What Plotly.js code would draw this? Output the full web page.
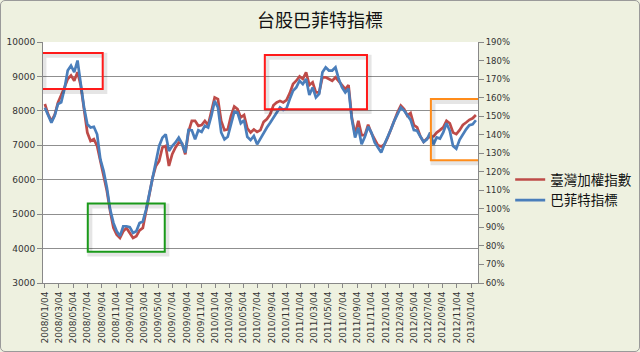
<!DOCTYPE html>
<html>
<head>
<meta charset="utf-8">
<script src="https://cdn.plot.ly/plotly-3.0.1.min.js"></script>
<style>
html,body{margin:0;padding:0;background:#fff;}
#wrap{position:relative;width:640px;height:352px;}
#chart{width:640px;height:352px;}
#frame{position:absolute;left:0;top:0;width:638px;height:350px;border:1px solid #9a9a9a;border-radius:5px;pointer-events:none;}
</style>
</head>
<body>
<div id="wrap"><div id="chart"></div><div id="frame"></div></div>
<script>
// ---- data ----
const startDate = '2008-01-04';
const stepDays = 14;

const taiex = [8200,7900,7700,7880,8240,8450,8680,8925,9030,8875,9125,8730,8060,7370,7125,7180,6980,6545,6205,5670,
5085,4600,4405,4310,4500,4600,4455,4310,4360,4530,4600,5085,5520,6060,6400,6545,6935,6980,6400,6740,
6935,7080,7050,6740,7400,7710,7710,7565,7590,7710,7585,8000,8390,8340,7710,7440,7460,7855,8125,8050,
7810,7880,7490,7370,7460,7390,7440,7680,7760,7900,8165,8245,8290,8245,8310,8515,8780,8875,9000,8925,
9120,8750,8830,8535,8535,8975,8975,8925,8875,8975,8875,8750,8635,8750,7805,7320,7710,7295,7295,7600,
7350,7160,7000,6965,7030,7225,7465,7740,7955,8150,8050,7860,7935,7590,7520,7255,7100,7195,7255,7255,
7370,7440,7520,7710,7640,7370,7325,7440,7590,7660,7740,7785,7880];

const buffett = [154.5,150.1,146.5,150.2,156.5,157.5,164.6,174.6,177.2,173.7,180.0,167.3,154.7,145.6,143.9,144.3,140.2,126.7,120.4,111.4,
99.6,92.4,87.9,85.3,90.6,90.6,90.1,87.0,87.9,92.4,93.2,99.6,108.7,117.7,125.8,133.9,138.4,140.2,131.2,133.9,
135.8,138.4,135.2,130.4,142.6,142.4,137.5,142.4,141.5,144.8,143.9,150.2,158.2,154.7,141.2,137.5,138.9,146.4,152.3,151.9,
146.2,147.8,138.9,137.1,139.3,134.8,137.8,141.3,143.9,146.5,149.2,151.6,154.7,153.4,154.2,159.2,163.7,165.5,169.1,167.3,
170.0,161.4,165.5,160.1,162.0,173.7,176.3,174.6,174.6,176.3,170.0,165.5,162.8,164.9,148.4,138.5,143.8,134.8,138.9,144.3,
141.2,135.8,133.1,130.4,134.8,138.5,142.9,147.5,151.1,154.7,153.0,150.6,148.0,142.5,142.1,139.0,136.1,137.5,141.2,134.8,
138.5,137.9,141.2,146.2,142.1,133.9,132.4,137.2,140.2,142.9,145.1,145.6,147.8];

const seriesNames = ['臺灣加權指數', '巴菲特指標'];
const chartTitle = '台股巴菲特指標';

// highlight boxes [x0, x1, y0, y1, colour]
const boxes = [
  ['2007-12-22', '2008-09-08', 8633, 9682, '#ff1a1a'],
  ['2008-07-06', '2009-06-01', 3910, 5310, '#1a9a1a'],
  ['2010-08-04', '2011-10-16', 8050, 9624, '#ff1a1a'],
  ['2012-07-16', '2013-03-18', 6563, 8341, '#ff8c1a']
];

// ---- build ----
const dates = [];
const d0 = new Date(startDate + 'T00:00:00Z');
for (let i = 0; i < taiex.length; i++) {
  const d = new Date(d0.getTime() + i * stepDays * 86400000);
  dates.push(d.toISOString().slice(0, 10));
}

const redC = '#BE4B48', blueC = '#4A7EBB';
const traces = [
  {x: dates, y: taiex, name: seriesNames[0], type: 'scatter', mode: 'lines',
   line: {color: redC, width: 2.7}, yaxis: 'y'},
  {x: dates, y: buffett, name: seriesNames[1], type: 'scatter', mode: 'lines',
   line: {color: blueC, width: 2.7}, yaxis: 'y2'}
];

const shapes = [];
function shiftDate(s, days) {
  const d = new Date(s + 'T00:00:00Z');
  return new Date(d.getTime() + days * 86400000).toISOString().slice(0, 10);
}
boxes.forEach(b => {
  shapes.push({type: 'rect', xref: 'x', yref: 'y', x0: shiftDate(b[0], 9), x1: shiftDate(b[1], 9),
    y0: b[2] - 70, y1: b[3] - 70, line: {color: 'rgba(0,0,0,0.10)', width: 5}, layer: 'above'});
  shapes.push({type: 'rect', xref: 'x', yref: 'y', x0: b[0], x1: b[1], y0: b[2], y1: b[3],
    line: {color: b[4], width: 2}, layer: 'above'});
});

const tickFont = {family: 'DejaVu Sans, Verdana, sans-serif', size: 9, color: '#333'};
const layout = {
  width: 640, height: 352,
  paper_bgcolor: '#EEF1E0', plot_bgcolor: '#ffffff',
  margin: {l: 43, r: 162, t: 42, b: 69, autoexpand: false},
  title: {text: chartTitle, x: 0.5, xanchor: 'center', y: 0.94, yanchor: 'middle',
    font: {family: 'Noto Sans CJK TC, sans-serif', size: 18, color: '#111'}},
  showlegend: true,
  legend: {x: 1.074, xanchor: 'left', y: 0.385, yanchor: 'middle', bgcolor: 'rgba(0,0,0,0)',
    font: {family: 'Noto Sans CJK TC, sans-serif', size: 13.5, color: '#111'}},
  xaxis: {type: 'date', range: ['2007-12-27', '2013-02-03'], tick0: '2008-01-04', dtick: 'M2',
    tickformat: '%Y/%m/%d', tickangle: -90, tickfont: tickFont, ticks: 'outside', ticklen: 4,
    tickcolor: '#888', showline: true, linecolor: '#888', linewidth: 1, showgrid: false, zeroline: false,
    automargin: false},
  yaxis: {range: [3000, 10000], dtick: 1000, tickformat: 'd', tickfont: tickFont, ticks: 'outside', ticklen: 5,
    tickcolor: '#888', showline: true, linecolor: '#888', showgrid: true, gridcolor: '#8f8f8f',
    gridwidth: 1, zeroline: false, automargin: false},
  yaxis2: {range: [60, 190], dtick: 10, ticksuffix: '%', overlaying: 'y', side: 'right',
    tickfont: {family: 'DejaVu Sans, Verdana, sans-serif', size: 8.5, color: '#333'},
    ticks: 'outside', ticklen: 5, tickcolor: '#888', showline: true,
    linecolor: '#888', showgrid: false, zeroline: false, automargin: false},
  shapes: shapes
};

Plotly.newPlot('chart', traces, layout, {displayModeBar: false, staticPlot: true});
</script>
</body>
</html>
